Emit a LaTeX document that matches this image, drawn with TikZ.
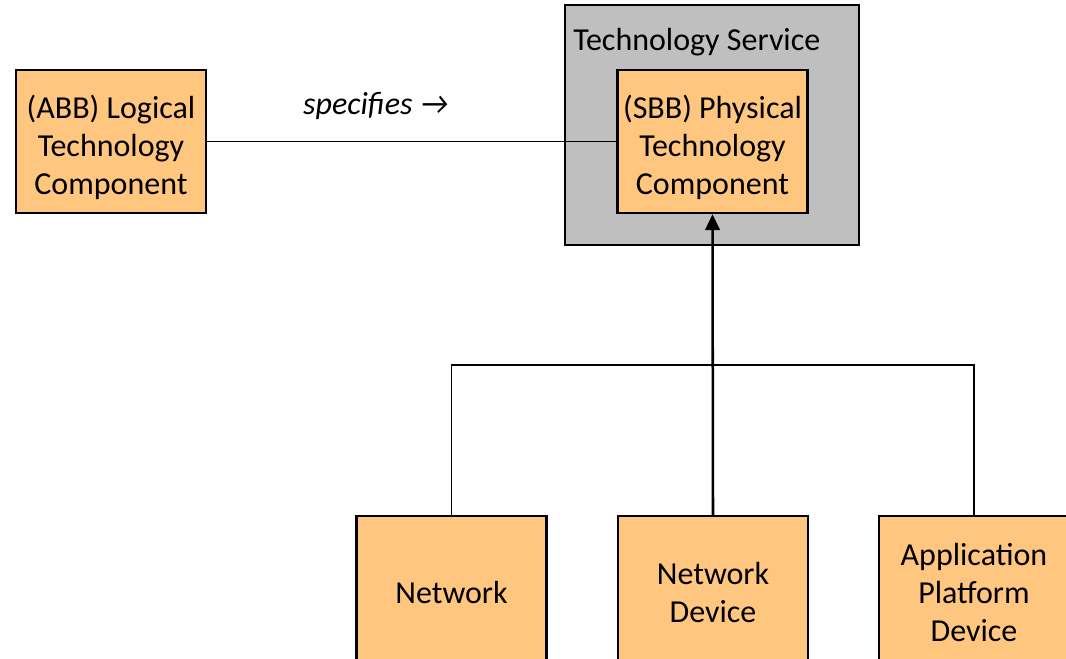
\documentclass[tikz,border=0pt]{standalone}
\usepackage{fontspec}
\setmainfont{Carlito}
\usetikzlibrary{arrows.meta}

\definecolor{bbfill}{RGB}{255,198,128}
\definecolor{svcfill}{RGB}{191,191,191}

\tikzset{
  bbbox/.style={draw, line width=1.8pt, fill=bbfill, align=center,
    inner sep=0pt, minimum width=142.5pt, minimum height=107.25pt,
    font=\fontsize{24}{28.5}\selectfont},
  leafbox/.style={bbbox, minimum height=114pt},
  svcbox/.style={draw, line width=1.8pt, fill=svcfill,
    minimum width=220.5pt, minimum height=180pt, inner sep=0pt},
  link/.style={line width=1.1pt},
  realises/.style={line width=1.9pt, -{Triangle[length=12pt,width=11pt]}}
}

\begin{document}
\begin{tikzpicture}[x=0.75pt,y=-0.75pt]
  \useasboundingbox (0,0) rectangle (1066,658);
  \clip (0,0) rectangle (1066,658);

  % building blocks
  \node[bbbox, text height=84pt] (abb) at (111,141.5) {(ABB) Logical\\Technology\\Component};
  \node[svcbox] (svc) at (712,125) {};
  \node[anchor=west, inner sep=0pt, font=\fontsize{24}{28.5}\selectfont]
    (svctitle) at (573,42) {Technology Service};
  \node[bbbox, text height=84pt] (sbb) at (712.5,141.5) {(SBB) Physical\\Technology\\Component};

  % leaf components
  \node[leafbox] (net) at (451.5,592) {Network};
  \node[leafbox] (netdev) at (713,592) {Network\\Device};
  \node[leafbox] (appdev) at (974,592) {Application\\Platform\\Device};

  \draw[link] (abb) -- (sbb);
  \node[font=\fontsize{24}{28.5}\selectfont\itshape] (spec) at (376,106) {specifies →};

  \coordinate (join) at (713,365);
  \draw[link] (net.north) |- (join) -| (appdev.north);
  \draw[realises] (netdev.north) -- (sbb.south);
\end{tikzpicture}
\end{document}
